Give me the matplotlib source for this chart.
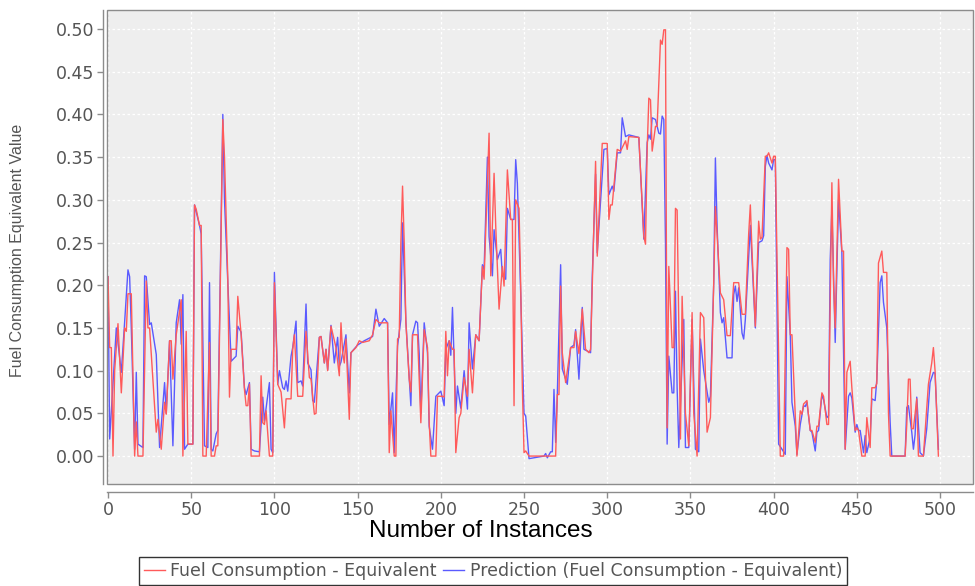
import matplotlib
matplotlib.use("Agg")
import matplotlib.pyplot as plt
from matplotlib.patches import Rectangle

# ---- data: actual series (instance index, value) ----
actual_idx = [0, 1, 2, 3, 4, 6, 8, 10, 11, 12,
              14, 16, 17, 18, 21, 23, 24, 25, 29, 30,
              32, 34, 35, 37, 38, 39, 41, 44, 45, 47,
              48, 51, 52, 53, 55, 56, 57, 59, 61, 62,
              64, 65, 66, 69, 70, 72, 73, 74, 77, 78,
              80, 82, 83, 84, 85, 86, 91, 92, 93, 94,
              95, 97, 99, 100, 102, 104, 106, 107, 110, 111,
              112, 114, 117, 119, 121, 122, 124, 125, 127, 128,
              130, 131, 132, 134, 136, 137, 139, 140, 141, 142,
              143, 145, 146, 149, 151, 153, 157, 159, 161, 163,
              168, 169, 170, 172, 173, 174, 175, 176, 177, 178,
              179, 181, 182, 183, 186, 188, 190, 192, 193, 194,
              197, 198, 201, 202, 203, 204, 205, 207, 208, 209,
              211, 212, 214, 216, 217, 219, 221, 223, 225, 226,
              229, 230, 232, 233, 235, 237, 238, 240, 242, 243,
              244, 245, 247, 248, 249, 250, 251, 253, 269, 270,
              271, 272, 273, 275, 278, 280, 281, 283, 285, 287,
              289, 290, 293, 294, 297, 300, 301, 302, 303, 306,
              308, 309, 311, 312, 313, 319, 322, 323, 324, 325,
              326, 327, 329, 330, 332, 333, 334, 335, 336, 337,
              339, 340, 341, 342, 344, 345, 347, 349, 351, 352,
              354, 356, 358, 360, 362, 364, 365, 366, 368, 370,
              372, 374, 376, 379, 381, 383, 385, 386, 387, 389,
              391, 392, 393, 395, 396, 397, 399, 400, 401, 404,
              406, 408, 409, 410, 411, 414, 416, 417, 418, 420,
              422, 423, 425, 426, 427, 429, 430, 432, 433, 435,
              436, 437, 439, 441, 442, 443, 444, 446, 447, 449,
              450, 451, 453, 455, 456, 458, 459, 461, 462, 463,
              465, 466, 468, 469, 470, 479, 480, 481, 482, 483,
              484, 486, 487, 490, 493, 495, 496, 497, 499]
actual_val = [0.21, 0.127, 0.127, 0.0, 0.10, 0.155, 0.074, 0.15, 0.146, 0.19,
              0.19, 0.0, 0.04, 0.0, 0.0, 0.205, 0.15, 0.15, 0.028, 0.043,
              0.008, 0.063, 0.049, 0.135, 0.135, 0.09, 0.142, 0.183, 0.0, 0.146,
              0.014, 0.014, 0.294, 0.289, 0.27, 0.27, 0.0, 0.0, 0.133, 0.0,
              0.0, 0.012, 0.012, 0.394, 0.35, 0.207, 0.069, 0.125, 0.125, 0.187,
              0.142, 0.078, 0.059, 0.059, 0.084, 0.0, 0.0, 0.094, 0.039, 0.037,
              0.053, 0.0, 0.0, 0.203, 0.084, 0.075, 0.033, 0.067, 0.067, 0.125,
              0.142, 0.07, 0.07, 0.146, 0.092, 0.09, 0.049, 0.05, 0.139, 0.14,
              0.109, 0.125, 0.1, 0.152, 0.135, 0.127, 0.094, 0.156, 0.121, 0.109,
              0.137, 0.043, 0.121, 0.127, 0.135, 0.133, 0.135, 0.142, 0.16, 0.156,
              0.156, 0.004, 0.053, 0.0, 0.0, 0.137, 0.139, 0.25, 0.316, 0.25,
              0.156, 0.09, 0.075, 0.142, 0.142, 0.039, 0.148, 0.127, 0.04, 0.0,
              0.0, 0.07, 0.07, 0.069, 0.146, 0.094, 0.135, 0.125, 0.125, 0.004,
              0.045, 0.05, 0.092, 0.07, 0.125, 0.074, 0.142, 0.135, 0.222, 0.207,
              0.378, 0.211, 0.331, 0.269, 0.172, 0.222, 0.199, 0.335, 0.277, 0.277,
              0.059, 0.30, 0.29, 0.2, 0.08, 0.004, 0.006, 0.0, 0.0, 0.072,
              0.072, 0.199, 0.121, 0.086, 0.127, 0.127, 0.146, 0.12, 0.172, 0.125,
              0.121, 0.125, 0.345, 0.234, 0.366, 0.366, 0.277, 0.294, 0.294, 0.359,
              0.357, 0.361, 0.369, 0.359, 0.374, 0.373, 0.257, 0.248, 0.359, 0.419,
              0.417, 0.357, 0.386, 0.386, 0.487, 0.482, 0.499, 0.499, 0.033, 0.222,
              0.127, 0.127, 0.29, 0.288, 0.02, 0.187, 0.05, 0.012, 0.168, 0.05,
              0.0, 0.168, 0.162, 0.028, 0.045, 0.203, 0.292, 0.26, 0.191, 0.183,
              0.141, 0.141, 0.203, 0.203, 0.166, 0.166, 0.26, 0.294, 0.24, 0.152,
              0.275, 0.254, 0.256, 0.351, 0.351, 0.355, 0.343, 0.351, 0.351, 0.0,
              0.0, 0.244, 0.242, 0.142, 0.142, 0.0, 0.053, 0.049, 0.061, 0.065,
              0.03, 0.03, 0.016, 0.035, 0.035, 0.074, 0.07, 0.037, 0.037, 0.32,
              0.2, 0.15, 0.324, 0.24, 0.24, 0.008, 0.098, 0.111, 0.08, 0.03,
              0.033, 0.03, 0.0, 0.0, 0.045, 0.01, 0.08, 0.08, 0.085, 0.226,
              0.24, 0.215, 0.215, 0.05, 0.0, 0.0, 0.037, 0.09, 0.09, 0.032,
              0.032, 0.067, 0.0, 0.0, 0.084, 0.109, 0.127, 0.10, 0.0]

# ---- data: prediction series (instance index, value) ----
pred_idx = [0, 1, 5, 8, 10, 12, 13, 14, 16, 17,
            18, 21, 22, 23, 25, 26, 29, 31, 34, 35,
            37, 39, 41, 43, 44, 45, 46, 48, 51, 52,
            55, 56, 58, 60, 61, 62, 63, 65, 66, 69,
            70, 72, 74, 77, 78, 80, 82, 83, 85, 86,
            88, 91, 93, 94, 97, 98, 99, 100, 102, 103,
            105, 106, 107, 108, 110, 111, 113, 114, 116, 117,
            119, 120, 122, 123, 124, 127, 128, 130, 131, 132,
            134, 136, 138, 139, 140, 143, 145, 146, 150, 154,
            159, 161, 163, 166, 168, 169, 171, 172, 174, 176,
            177, 179, 182, 183, 185, 186, 187, 188, 190, 192,
            193, 195, 197, 200, 202, 203, 205, 206, 207, 209,
            210, 212, 214, 216, 217, 219, 221, 223, 225, 226,
            228, 229, 231, 232, 234, 236, 237, 239, 240, 242,
            244, 245, 246, 248, 250, 251, 253, 262, 263, 264,
            266, 267, 268, 269, 270, 272, 273, 276, 278, 280,
            281, 283, 285, 286, 290, 291, 293, 294, 298, 300,
            301, 303, 304, 306, 308, 309, 311, 313, 319, 322,
            324, 325, 326, 327, 329, 331, 332, 333, 334, 335,
            336, 337, 339, 340, 341, 342, 343, 346, 347, 349,
            351, 353, 355, 356, 358, 361, 362, 364, 365, 366,
            368, 369, 370, 372, 375, 376, 377, 378, 379, 381,
            382, 383, 386, 389, 391, 393, 394, 395, 396, 397,
            399, 400, 401, 403, 405, 407, 408, 410, 411, 413,
            414, 416, 418, 419, 420, 422, 423, 425, 426, 427,
            429, 430, 432, 433, 434, 435, 437, 439, 441, 443,
            445, 446, 447, 449, 450, 451, 452, 454, 455, 456,
            458, 459, 461, 462, 464, 465, 466, 468, 470, 471,
            479, 480, 481, 483, 484, 485, 486, 488, 490, 492,
            494, 496, 497, 498, 499]
pred_val = [0.21, 0.02, 0.15, 0.098, 0.157, 0.218, 0.21, 0.15, 0.008, 0.098,
            0.014, 0.01, 0.211, 0.21, 0.154, 0.156, 0.119, 0.01, 0.086, 0.05,
            0.135, 0.012, 0.156, 0.183, 0.131, 0.189, 0.008, 0.014, 0.014, 0.294,
            0.27, 0.26, 0.012, 0.01, 0.203, 0.008, 0.006, 0.026, 0.03, 0.40,
            0.3, 0.203, 0.111, 0.117, 0.152, 0.145, 0.08, 0.072, 0.086, 0.008,
            0.006, 0.005, 0.069, 0.041, 0.086, 0.008, 0.004, 0.215, 0.084, 0.1,
            0.08, 0.078, 0.088, 0.076, 0.117, 0.127, 0.158, 0.086, 0.088, 0.082,
            0.178, 0.109, 0.101, 0.065, 0.063, 0.139, 0.14, 0.109, 0.125, 0.101,
            0.153, 0.109, 0.139, 0.105, 0.11, 0.142, 0.074, 0.121, 0.13, 0.135,
            0.14, 0.172, 0.152, 0.161, 0.156, 0.037, 0.074, 0.004, 0.129, 0.16,
            0.273, 0.158, 0.059, 0.142, 0.158, 0.156, 0.12, 0.05, 0.156, 0.121,
            0.035, 0.008, 0.07, 0.076, 0.059, 0.125, 0.135, 0.118, 0.174, 0.05,
            0.082, 0.056, 0.1, 0.055, 0.156, 0.102, 0.142, 0.135, 0.224, 0.218,
            0.35, 0.257, 0.211, 0.265, 0.23, 0.242, 0.211, 0.207, 0.29, 0.277,
            0.277, 0.347, 0.319, 0.19, 0.05, 0.047, -0.003, 0.0, 0.003, -0.002,
            0.005, 0.005, 0.078, 0.016, 0.072, 0.224, 0.102, 0.084, 0.127, 0.13,
            0.148, 0.09, 0.174, 0.125, 0.121, 0.21, 0.33, 0.238, 0.359, 0.36,
            0.306, 0.316, 0.31, 0.355, 0.355, 0.396, 0.374, 0.376, 0.373, 0.254,
            0.367, 0.376, 0.371, 0.396, 0.394, 0.378, 0.377, 0.398, 0.394, 0.25,
            0.014, 0.117, 0.074, 0.074, 0.193, 0.08, 0.01, 0.16, 0.01, 0.01,
            0.16, 0.008, 0.005, 0.137, 0.1, 0.063, 0.07, 0.203, 0.349, 0.27,
            0.168, 0.156, 0.162, 0.115, 0.115, 0.189, 0.199, 0.181, 0.197, 0.144,
            0.137, 0.16, 0.27, 0.15, 0.25, 0.252, 0.258, 0.339, 0.352, 0.343,
            0.335, 0.347, 0.347, 0.014, 0.008, 0.002, 0.21, 0.142, 0.063, 0.035,
            0.002, 0.037, 0.059, 0.058, 0.063, 0.03, 0.028, 0.006, 0.028, 0.03,
            0.072, 0.066, 0.045, 0.047, 0.23, 0.29, 0.133, 0.3, 0.238, 0.008,
            0.07, 0.074, 0.068, 0.028, 0.037, 0.03, 0.03, 0.004, 0.024, 0.004,
            0.022, 0.067, 0.065, 0.09, 0.203, 0.211, 0.18, 0.15, 0.04, 0.0,
            0.0, 0.057, 0.059, 0.028, 0.008, 0.025, 0.069, 0.004, 0.0, 0.032,
            0.086, 0.098, 0.097, 0.051, 0.008]

assert len(actual_idx) == len(actual_val), (len(actual_idx), len(actual_val))
assert len(pred_idx) == len(pred_val), (len(pred_idx), len(pred_val))

x_ticks = [0, 50, 100, 150, 200, 250, 300, 350, 400, 450, 500]
y_ticks = [0.00, 0.05, 0.10, 0.15, 0.20, 0.25, 0.30, 0.35, 0.40, 0.45, 0.50]
label_actual = "Fuel Consumption - Equivalent"
label_pred = "Prediction (Fuel Consumption - Equivalent)"

# ---- figure ----
W, H = 975, 586
fig = plt.figure(figsize=(W / 100, H / 100), dpi=100, facecolor="white")
ax = fig.add_axes([107 / W, 1 - 484 / H, (973 - 107) / W, (484 - 10) / H])
ax.set_facecolor("#eeeeee")

ax.plot(pred_idx, pred_val, color="#5a5aff", lw=1.0, zorder=3,
        label=label_pred)
ax.plot(actual_idx, actual_val, color="#ff5a5a", lw=1.0, zorder=4,
        label=label_actual)

ax.set_xlim(-0.6, 519.8)
ax.set_ylim(-0.0327, 0.5222)
ax.set_xticks(x_ticks)
ax.set_yticks(y_ticks)
ax.set_yticklabels([f"{v:.2f}" for v in y_ticks])

ax.grid(True, color="white", linestyle=(0, (2, 2)), lw=0.9, zorder=1)
ax.set_axisbelow(True)

for s in ["top", "right"]:
    ax.spines[s].set_visible(False)
ax.spines["left"].set_position(("outward", 3))
ax.spines["bottom"].set_position(("outward", 6))
for s in ["left", "bottom"]:
    ax.spines[s].set_color("#8c8c8c")
    ax.spines[s].set_linewidth(1.0)
ax.add_patch(Rectangle((0, 0), 1, 1, transform=ax.transAxes, fill=False,
                       edgecolor="#8c8c8c", lw=1.0, clip_on=False, zorder=5))

ax.tick_params(axis="both", direction="out", length=4, width=1,
               color="#8c8c8c", labelcolor="#555555", labelsize=12.5, pad=2)

fig.text(481 / W, 1 - 537 / H, "Number of Instances", ha="center",
         va="baseline", fontsize=17.5, color="black",
         family=["Liberation Sans", "DejaVu Sans"])
fig.text(18 / W, 1 - 250 / H, "Fuel Consumption Equivalent Value",
         rotation=90, ha="center", va="center", fontsize=11.5, color="#555555",
         family=["Liberation Sans Narrow", "Liberation Sans", "DejaVu Sans"])

handles, labels = ax.get_legend_handles_labels()
order = [1, 0]
leg = fig.legend([handles[i] for i in order], [labels[i] for i in order],
                 loc="center", bbox_to_anchor=(493 / W, 1 - 571 / H), ncol=2,
                 frameon=True, fancybox=False, fontsize=12.5,
                 handlelength=1.2, handletextpad=0.3, columnspacing=0.4,
                 borderpad=0.3, borderaxespad=0)
leg.get_frame().set_edgecolor("black")
leg.get_frame().set_linewidth(1.0)
for t in leg.get_texts():
    t.set_color("#555555")

fig.savefig("out.png", dpi=100, facecolor="white")
